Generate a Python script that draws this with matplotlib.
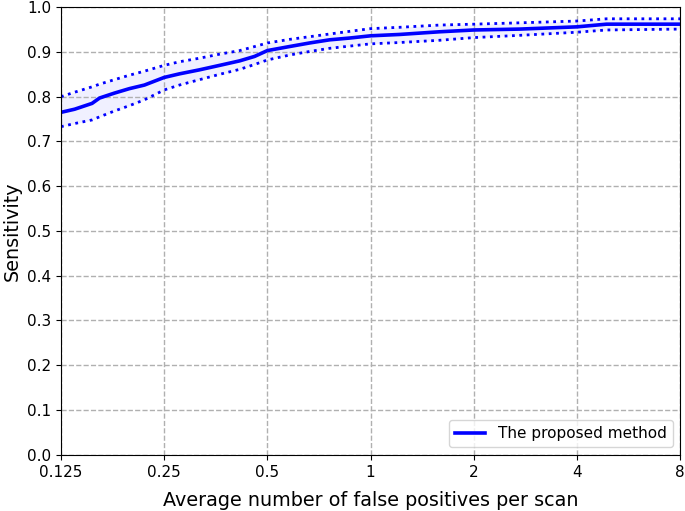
import matplotlib
matplotlib.use('Agg')
import matplotlib.pyplot as plt
import numpy as np

# average false positives per scan
fps = [0.125, 0.137, 0.154, 0.162, 0.179, 0.198, 0.219, 0.25, 0.277, 0.317,
       0.363, 0.415, 0.459, 0.5, 0.58, 0.664, 0.759, 0.869, 1.0, 1.215,
       1.59, 2.0, 2.72, 4.0, 4.88, 8.0]
sens = [0.765, 0.772, 0.785, 0.797, 0.808, 0.818, 0.826, 0.843, 0.851, 0.860,
        0.870, 0.880, 0.890, 0.903, 0.912, 0.920, 0.927, 0.931, 0.936, 0.939,
        0.945, 0.949, 0.951, 0.956, 0.962, 0.962]
sens_upper = [0.800, 0.810, 0.822, 0.828, 0.838, 0.848, 0.857, 0.870, 0.878, 0.886,
              0.895, 0.903, 0.912, 0.920, 0.928, 0.934, 0.940, 0.946, 0.952, 0.955,
              0.960, 0.962, 0.965, 0.969, 0.974, 0.974]
sens_lower = [0.733, 0.740, 0.748, 0.755, 0.768, 0.780, 0.793, 0.815, 0.826, 0.838,
              0.850, 0.861, 0.872, 0.882, 0.893, 0.901, 0.908, 0.913, 0.918, 0.921,
              0.926, 0.932, 0.937, 0.944, 0.949, 0.951]

xticks = [0.125, 0.25, 0.5, 1, 2, 4, 8]
xtick_labels = ['0.125', '0.25', '0.5', '1', '2', '4', '8']
yticks = np.arange(0, 1.01, 0.1)

fig = plt.figure(figsize=(6.85, 5.11), dpi=100)
ax = fig.add_axes([0.089, 0.110, 0.904, 0.876])

ax.fill_between(fps, sens_lower, sens_upper, color='blue', alpha=0.06, lw=0)
ax.plot(fps, sens, color='blue', lw=2.6, label='The proposed method')
ax.plot(fps, sens_upper, color='blue', lw=2, linestyle=':')
ax.plot(fps, sens_lower, color='blue', lw=2, linestyle=':')

ax.set_xscale('log', base=2)
ax.set_xlim(0.125, 8)
ax.set_ylim(0, 1)
ax.set_xticks(xticks)
ax.set_xticklabels(xtick_labels)
ax.minorticks_off()
ax.set_yticks(yticks)
ax.set_yticklabels(['%.1f' % v for v in yticks])
ax.tick_params(labelsize=11)
ax.grid(True, linestyle='--', color='#b0b0b0', lw=1)

ax.set_xlabel('Average number of false positives per scan', fontsize=13.8, labelpad=8)
ax.set_ylabel('Sensitivity', fontsize=13.8)
ax.legend(loc='lower right', fontsize=11)

plt.savefig('out.png', dpi=100)
